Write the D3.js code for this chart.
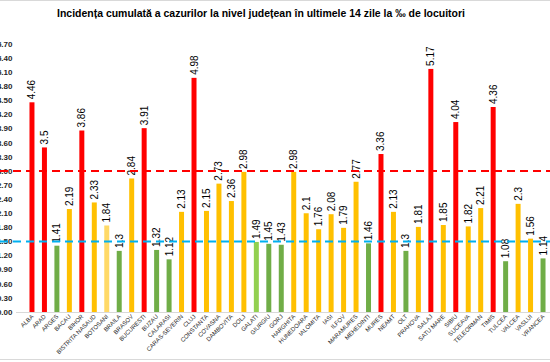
<!DOCTYPE html>
<html>
<head>
<meta charset="utf-8">
<script src="https://cdn.jsdelivr.net/npm/d3@7"></script>
<style>
  body { margin: 0; background: #fff; }
  svg { display: block; font-family: "Liberation Sans", Arial, sans-serif; }
</style>
</head>
<body>
<div id="chart"></div>
<script>
// counties (x axis) in the order of the picture
const counties = ["ALBA", "ARAD", "ARGES", "BACAU", "BIHOR", "BISTRITA NASAUD", "BOTOSANI", "BRAILA",
  "BRASOV", "BUCURESTI", "BUZAU", "CALARASI", "CARAS-SEVERIN", "CLUJ", "CONSTANTA", "COVASNA",
  "DAMBOVITA", "DOLJ", "GALATI", "GIURGIU", "GORJ", "HARGHITA", "HUNEDOARA", "IALOMITA", "IASI",
  "ILFOV", "MARAMURES", "MEHEDINTI", "MURES", "NEAMT", "OLT", "PRAHOVA", "SALAJ", "SATU MARE",
  "SIBIU", "SUCEAVA", "TELEORMAN", "TIMIS", "TULCEA", "VALCEA", "VASLUI", "VRANCEA"];

// incidence per 1000 inhabitants
const incidence = [4.46, 3.5, 1.41, 2.19, 3.86, 2.33, 1.84, 1.3,
  2.84, 3.91, 1.32, 1.12, 2.13, 4.98, 2.15, 2.73,
  2.36, 2.98, 1.49, 1.45, 1.43, 2.98, 2.1, 1.76, 2.08,
  1.79, 2.77, 1.46, 3.36, 2.13, 1.3, 1.81, 5.17, 1.85,
  4.04, 1.82, 2.21, 4.36, 1.08, 2.3, 1.56, 1.14];

// colour group of each bar
const groups = ["r", "r", "g", "o", "r", "o", "lo", "g",
  "o", "r", "g", "g", "o", "r", "o", "o",
  "o", "o", "lg", "g", "g", "o", "o", "o", "o",
  "o", "o", "g", "r", "o", "g", "o", "r", "o",
  "r", "o", "o", "r", "g", "o", "o", "g"];

const yTicks = [0, 0.3, 0.6, 0.9, 1.2, 1.5, 1.8, 2.1, 2.4, 2.7, 3.0, 3.3, 3.6, 3.9, 4.2, 4.5, 4.8, 5.1, 5.4, 5.7];
const thresholds = [3.0, 1.5];

const title = "Incidența cumulată a cazurilor la nivel județean în ultimele 14 zile la ‰ de locuitori";

const colors = {r: "#ff0000", o: "#ffc000", lo: "#ffd966", g: "#70ad47", lg: "#92d050"};

const W = 550, H = 362;
const margin = {top: 44, right: -3, bottom: 50, left: 22};

const svg = d3.select("#chart").append("svg")
  .attr("width", W).attr("height", H);

// frame lines of the screenshot
svg.append("line").attr("x1", 0).attr("x2", W).attr("y1", 0.5).attr("y2", 0.5)
  .attr("stroke", "#d9d9d9");
svg.append("line").attr("x1", 0).attr("x2", W).attr("y1", 359.5).attr("y2", 359.5)
  .attr("stroke", "#d9d9d9");

svg.append("text")
  .attr("x", 261).attr("y", 17)
  .attr("text-anchor", "middle")
  .attr("font-size", 11).attr("font-weight", "bold")
  .attr("textLength", 408).attr("lengthAdjust", "spacingAndGlyphs")
  .text(title);

const x = d3.scaleBand()
  .domain(counties)
  .range([margin.left, W - margin.right])
  .padding(0.6);

const y = d3.scaleLinear()
  .domain([0, 5.7])
  .range([312, 44]);

// y axis labels (left part is cut off in the original)
svg.append("g")
  .selectAll("text")
  .data(yTicks)
  .join("text")
  .attr("x", 12.5)
  .attr("y", d => y(d))
  .attr("dy", "0.35em")
  .attr("text-anchor", "end")
  .attr("font-size", 8)
  .attr("font-weight", "bold")
  .attr("fill", "#262626")
  .text(d => d.toFixed(2));

// baseline
svg.append("line")
  .attr("x1", margin.left - 6).attr("x2", W)
  .attr("y1", y(0) + 0.5).attr("y2", y(0) + 0.5)
  .attr("stroke", "#d9d9d9");

// bars
svg.append("g")
  .selectAll("rect")
  .data(counties)
  .join("rect")
  .attr("x", d => x(d))
  .attr("width", x.bandwidth())
  .attr("y", (d, i) => y(incidence[i]))
  .attr("height", (d, i) => y(0) - y(incidence[i]))
  .attr("fill", (d, i) => colors[groups[i]]);

// value labels
svg.append("g")
  .selectAll("text")
  .data(counties)
  .join("text")
  .attr("transform", (d, i) =>
    `translate(${x(d) + x.bandwidth() / 2 + 3.5},${y(incidence[i]) - 3}) rotate(-90)`)
  .attr("font-size", 10)
  .attr("fill", "#000")
  .text((d, i) => String(incidence[i]));

// category labels
svg.append("g")
  .selectAll("text")
  .data(counties)
  .join("text")
  .attr("transform", d =>
    `translate(${x(d) + x.bandwidth() / 2 + 2},${y(0) + 5}) rotate(-45)`)
  .attr("text-anchor", "end")
  .attr("font-size", 6)
  .attr("fill", "#262626")
  .text(d => d);

// threshold lines
svg.append("g")
  .selectAll("line")
  .data(thresholds)
  .join("line")
  .attr("x1", 0).attr("x2", W)
  .attr("y1", d => y(d)).attr("y2", d => y(d))
  .attr("stroke", (d, i) => i === 0 ? "#ff0000" : "#00b0f0")
  .attr("stroke-width", 2)
  .attr("stroke-dasharray", "8,5");
</script>
</body>
</html>
